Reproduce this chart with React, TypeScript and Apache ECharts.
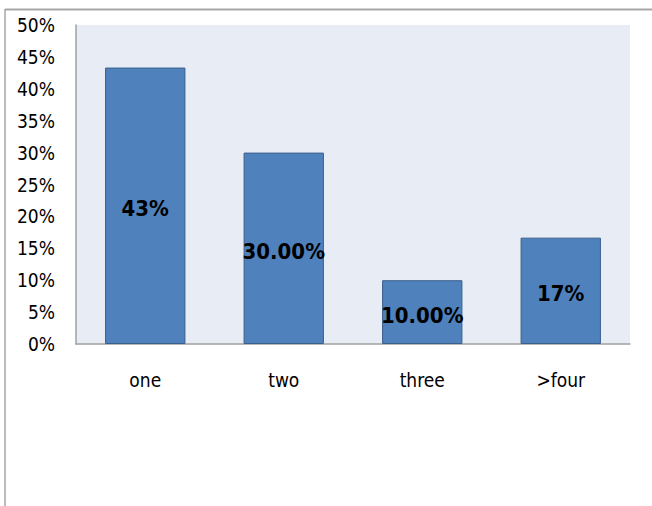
import React, { useEffect, useRef } from "react";
import * as echarts from "echarts";

const categories = ["one", "two", "three", ">four"];
const shares = [43.33, 30, 10, 16.67];
const labelDecimals = [0, 2, 2, 0];
const yTicks = [0, 5, 10, 15, 20, 25, 30, 35, 40, 45, 50];

const FONT = "'DejaVu Sans Condensed', 'Open Sans', sans-serif";

export default function App() {
  const ref = useRef<HTMLDivElement>(null);

  useEffect(() => {
    document.body.style.margin = "0";
    if (!ref.current) return;
    const chart = echarts.init(ref.current, null, { renderer: "svg" });
    chart.setOption({
      animation: false,
      backgroundColor: "#ffffff",
      grid: { left: 76, right: 22, top: 25, bottom: 162, show: true, backgroundColor: "#e8edf5", borderWidth: 0 },
      graphic: [
        { type: "line", shape: { x1: 5, y1: 9.5, x2: 652, y2: 9.5 }, style: { stroke: "#a6a6a6", lineWidth: 2 } },
        { type: "line", shape: { x1: 5, y1: 9, x2: 5, y2: 506 }, style: { stroke: "#a6a6a6", lineWidth: 1.5 } },
      ],
      xAxis: {
        type: "category",
        data: categories,
        axisLine: { lineStyle: { color: "#a0a0a0", width: 1.5 } },
        axisTick: { show: false },
        axisLabel: { margin: 26, fontSize: 19, color: "#000", fontFamily: FONT },
      },
      yAxis: {
        type: "value",
        min: 0,
        max: 50,
        interval: 5,
        axisLine: { show: true, lineStyle: { color: "#a0a0a0", width: 1.5 } },
        axisTick: { show: false },
        splitLine: { show: false },
        axisLabel: {
          margin: 21,
          fontSize: 19,
          color: "#000",
          fontFamily: FONT,
          formatter: (v: number) => (yTicks.includes(v) ? `${v}%` : ""),
        },
      },
      series: [
        {
          type: "bar",
          data: shares,
          barCategoryGap: "42%",
          itemStyle: { color: "#4f81bd", borderColor: "#3a5f8c", borderWidth: 1 },
          label: {
            show: true,
            position: "inside",
            offset: [0, 3],
            fontSize: 22,
            fontWeight: "bold",
            color: "#000",
            fontFamily: FONT,
            formatter: (p: any) => `${shares[p.dataIndex].toFixed(labelDecimals[p.dataIndex])}%`,
          },
        },
      ],
    });
    return () => chart.dispose();
  }, []);

  return <div ref={ref} style={{ width: 652, height: 506 }} />;
}
